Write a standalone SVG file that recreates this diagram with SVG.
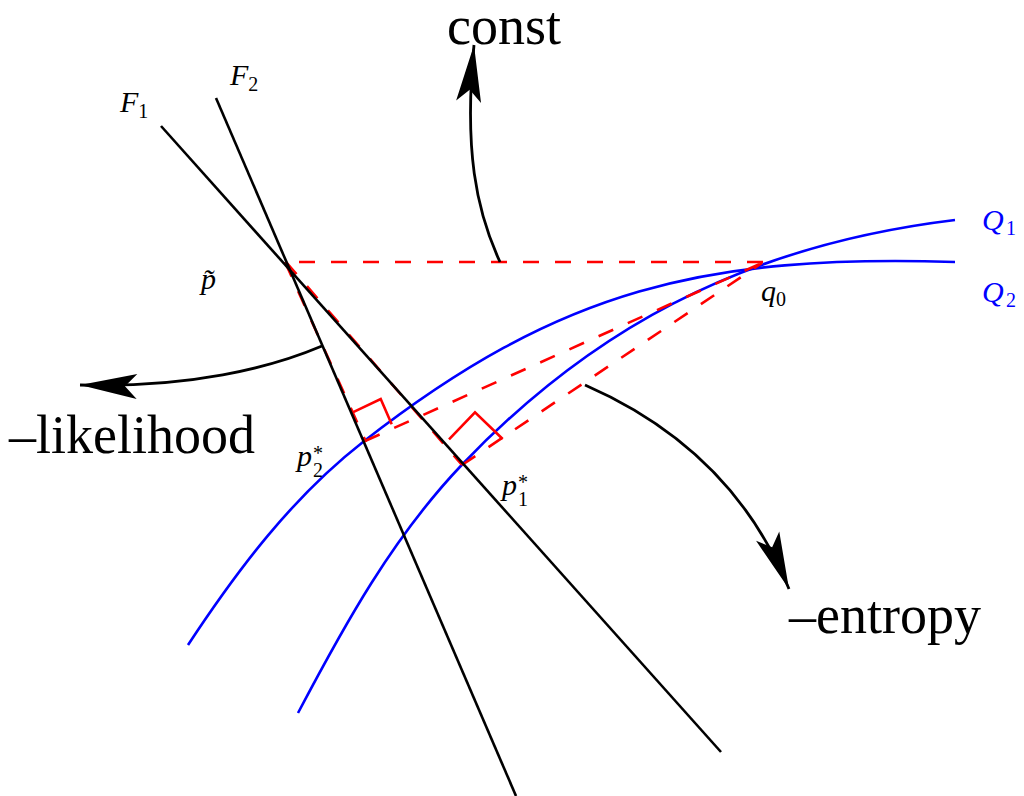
<svg xmlns="http://www.w3.org/2000/svg" width="1024" height="796" viewBox="0 0 1024 796">
<style>
.bk{fill:none;stroke:#000;stroke-width:2.6}
.bl{fill:none;stroke:#0000ff;stroke-width:2.6}
.rd{fill:none;stroke:#ff0000;stroke-width:2.6;stroke-dasharray:16 16}
.ra{fill:none;stroke:#ff0000;stroke-width:2.6}
.ar{fill:none;stroke:#000;stroke-width:2.8;marker-end:url(#ah)}
.big{font-family:"Liberation Serif","Times New Roman",serif;font-size:54px;fill:#000}
.m{font-family:"Liberation Serif","Times New Roman",serif;font-size:30px;font-style:italic;fill:#000}
.mb{font-family:"Liberation Serif","Times New Roman",serif;font-size:30px;font-style:italic;fill:#0000ff}
.sub{font-size:20px;font-style:normal}
</style>
<defs>
<marker id="ah" markerUnits="userSpaceOnUse" viewBox="-60 -15 62 30" markerWidth="62" markerHeight="30" refX="0" refY="0" orient="auto" overflow="visible">
<path d="M0,0 L-57,-12.5 L-45,0 L-57,12.5 Z" fill="#000"/>
</marker>
</defs>
<g id="curves">
<path id="Q2curve" class="bl" d="M188,645 C237.5,569.9 292,497.4 363,442 C560,288.25 705,254.5 955,262"/>
<path id="Q1curve" class="bl" d="M298,713 C344.6,624.5 392.7,537.4 461.7,465 C585.9,334.7 736.5,246.4 955,220"/>
</g>
<g id="projections">
<line class="rd" x1="299" y1="262" x2="763" y2="262"/>
<line class="rd" x1="285" y1="262" x2="366" y2="442"/>
<line class="rd" x1="286" y1="262" x2="462" y2="465"/>
<line class="rd" x1="365" y1="441" x2="762" y2="263"/>
<line class="rd" x1="462" y1="465" x2="762" y2="263"/>
<polyline class="ra" points="352.7,412.3 380.7,399 391.7,424.3"/>
<polyline class="ra" points="449,439.3 475,412.3 502.7,439"/>
</g>
<g id="families">
<line id="F1line" class="bk" x1="161" y1="126" x2="721" y2="752"/>
<line id="F2line" class="bk" x1="216" y1="98" x2="516" y2="796"/>
</g>
<g id="connectors">
<path class="ar" d="M500,262 C476,210 464,150 474,45"/>
<path class="ar" d="M322,346 C270,368 190,388 80,385"/>
<path class="ar" d="M585,385 C665,420 745,480 789,589"/>
</g>
<g id="labels">
<text class="big" x="447" y="44">const</text>
<text class="big" x="9" y="453">–likelihood</text>
<text class="big" x="789" y="633">–entropy</text>
<text class="m" x="120" y="112">F<tspan class="sub" dy="6">1</tspan></text>
<text class="m" x="230" y="85">F<tspan class="sub" dy="6">2</tspan></text>
<text class="m" x="201" y="289">p̃</text>
<text class="m" x="297" y="466">p<tspan class="sub" x="313" y="477">2</tspan><tspan class="sub" x="313" y="460">*</tspan></text>
<text class="m" x="502" y="495">p<tspan class="sub" x="518" y="506">1</tspan><tspan class="sub" x="518" y="489">*</tspan></text>
<text class="m" x="761" y="301">q<tspan class="sub" x="776" y="306">0</tspan></text>
<text class="mb" x="982" y="230">Q<tspan class="sub" x="1006" y="235">1</tspan></text>
<text class="mb" x="982" y="302">Q<tspan class="sub" x="1006" y="307">2</tspan></text>
</g>
</svg>
